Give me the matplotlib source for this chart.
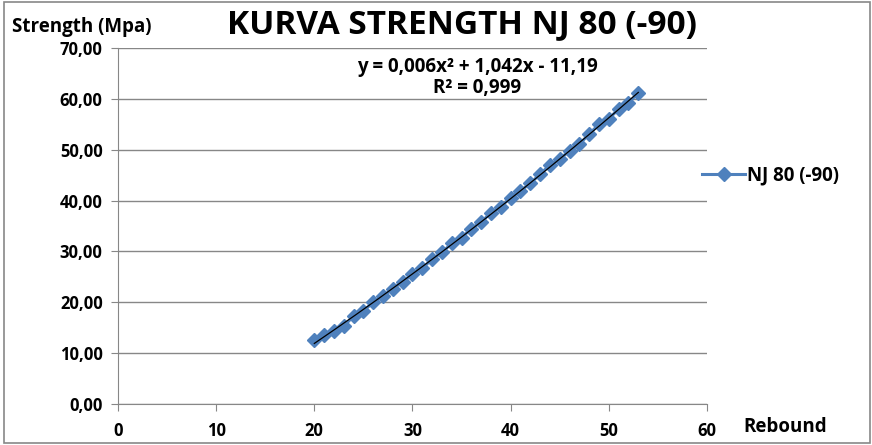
import numpy as np
import matplotlib.pyplot as plt

# rebound number vs strength (Mpa)
rebound = [20, 21, 22, 23, 24, 25, 26, 27, 28, 29, 30, 31, 32, 33, 34, 35, 36,
           37, 38, 39, 40, 41, 42, 43, 44, 45, 46, 47, 48, 49, 50, 51, 52, 53]
strength = [12.6, 13.6, 14.4, 15.3, 17.3, 18.3, 20.0, 21.2, 22.7, 24.0, 25.5,
            26.7, 28.5, 29.8, 31.6, 32.7, 34.5, 35.8, 37.6, 38.8, 40.6, 41.9,
            43.4, 45.2, 47.0, 48.2, 49.8, 51.1, 53.1, 55.0, 56.1, 58.0, 59.2, 61.2]
series_name = "NJ 80 (-90)"
x_ticks = [0, 10, 20, 30, 40, 50, 60]
y_ticks = [0, 10, 20, 30, 40, 50, 60, 70]

plt.rcParams['font.family'] = ['Open Sans', 'DejaVu Sans']

fig = plt.figure(figsize=(8.72, 4.45), dpi=100)
ax = fig.add_axes([0.1353, 0.0921, 0.6755, 0.80])

blue = '#4F81BD'
ax.plot(rebound, strength, color=blue, linewidth=2.2, marker='D',
        markersize=7, markeredgecolor=blue, label=series_name, zorder=3)

# 2nd order polynomial trendline
coef = np.polyfit(rebound, strength, 2)
xs = np.linspace(min(rebound), max(rebound), 200)
ax.plot(xs, np.polyval(coef, xs), color='black', linewidth=0.9, zorder=4)

ax.set_xlim(0, 60)
ax.set_ylim(0, 70)
ax.set_xticks(x_ticks)
ax.set_yticks(y_ticks)
ax.set_xticklabels([str(v) for v in x_ticks], fontsize=12, fontweight='bold')
ax.set_yticklabels([f"{v:.2f}".replace('.', ',') for v in y_ticks],
                   fontsize=12, fontweight='bold')
ax.tick_params(axis='x', direction='out', length=5, color='#878787', pad=8)
ax.tick_params(axis='y', direction='out', length=5, color='#878787', pad=6)

ax.grid(axis='y', color='#878787', linewidth=1.0)
ax.set_axisbelow(True)
for side in ['top', 'right']:
    ax.spines[side].set_visible(False)
for side in ['left', 'bottom']:
    ax.spines[side].set_color('#878787')

fig.text(0.53, 0.945, "KURVA STRENGTH NJ 80 (-90)", fontsize=24,
         fontweight='bold', ha='center', va='center')
fig.text(0.014, 0.94, "Strength (Mpa)", fontsize=13.5, fontweight='bold',
         ha='left', va='center')
fig.text(0.853, 0.04, "Rebound", fontsize=13.5, fontweight='bold',
         ha='left', va='center')

ax.text(0.61, 0.975, "y = 0,006x\u00b2 + 1,042x - 11,19\nR\u00b2 = 0,999",
        transform=ax.transAxes, fontsize=13.5, fontweight='bold',
        ha='center', va='top', linespacing=1.05)

leg = fig.legend(loc='center left', bbox_to_anchor=(0.786, 0.605), frameon=False,
                 prop={'weight': 'bold', 'size': 13.5}, handlelength=2.3,
                 handletextpad=0.1)

# chart area border
fig.patches.append(plt.Rectangle((0.005, 0.005), 0.993, 0.99,
                                 transform=fig.transFigure, fill=False,
                                 edgecolor='#878787', linewidth=1.2))

fig.savefig("out.png", dpi=100)
